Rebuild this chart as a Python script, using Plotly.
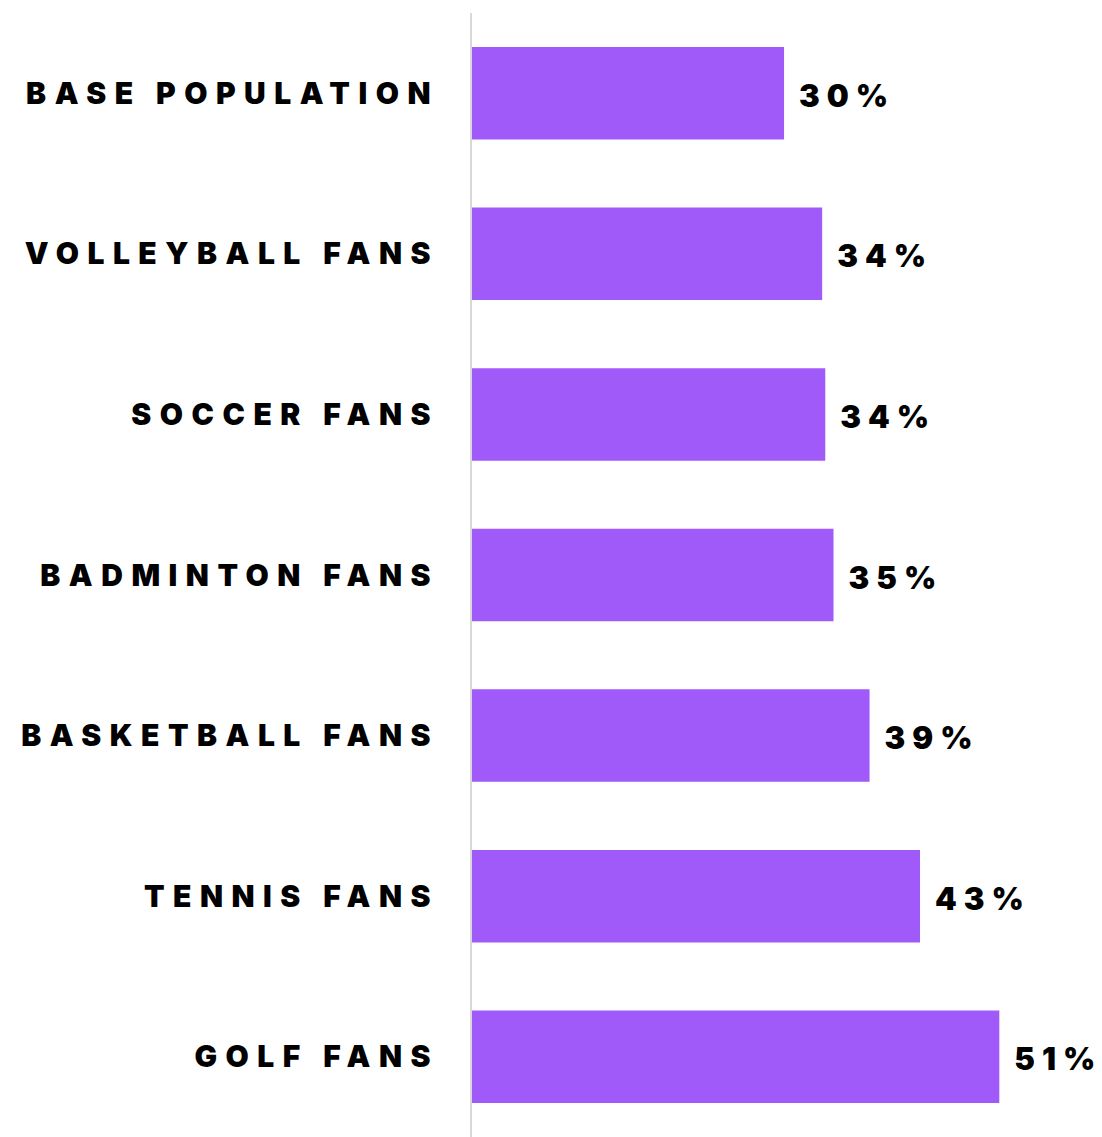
import plotly.graph_objects as go

categories = ["BASE POPULATION", "VOLLEYBALL FANS", "SOCCER FANS", "BADMINTON FANS",
              "BASKETBALL FANS", "TENNIS FANS", "GOLF FANS"]
values = [30.3, 34.0, 34.3, 35.1, 38.6, 43.5, 51.2]
value_labels = ["30%", "34%", "34%", "35%", "39%", "43%", "51%"]

BAR_COLOR = "#A05AF9"
FONT = "Inter, Lato, 'DejaVu Sans', sans-serif"

fig = go.Figure(go.Bar(
    x=values,
    y=categories,
    orientation="h",
    marker=dict(color=BAR_COLOR, line=dict(width=0)),
    text=value_labels,
    textposition="outside",
    textfont=dict(family=FONT, size=31, color="#000000", weight=900),
    constraintext="none",
    cliponaxis=False,
    hoverinfo="skip",
))

fig.update_layout(
    width=1102,
    height=1137,
    margin=dict(l=472, r=0, t=13, b=0),
    paper_bgcolor="white",
    plot_bgcolor="white",
    bargap=0.424,
    showlegend=False,
    xaxis=dict(range=[0, 61.17], visible=False, fixedrange=True),
    yaxis=dict(
        autorange="reversed",
        showline=True,
        linecolor="#d9d9d9",
        linewidth=2,
        showgrid=False,
        zeroline=False,
        ticks="",
        ticklabelstandoff=25,
        tickfont=dict(family=FONT, size=30, color="#000000", weight=900),
        fixedrange=True,
    ),
)

post = """
var gd = document.getElementById('{plot_id}');
function applySpacing(){
  gd.querySelectorAll('.ytick text').forEach(function(t){ t.style.letterSpacing = '8.5px'; });
  gd.querySelectorAll('text.bartext').forEach(function(t){
    if (t.getAttribute('data-spaced')) return;
    var b0 = t.getBBox().x;
    t.style.letterSpacing = '7px';
    var b1 = t.getBBox().x;
    var x0 = parseFloat(t.getAttribute('x') || '0');
    t.setAttribute('x', x0 + (b0 - b1) + 12);
    var y0 = parseFloat(t.getAttribute('y') || '0');
    t.setAttribute('y', y0 + 2);
    t.setAttribute('data-spaced', '1');
  });
}
applySpacing();
if (gd.on) { gd.on('plotly_afterplot', applySpacing); }
"""

fig.write_html("out.html", post_script=post, config={"displayModeBar": False})
